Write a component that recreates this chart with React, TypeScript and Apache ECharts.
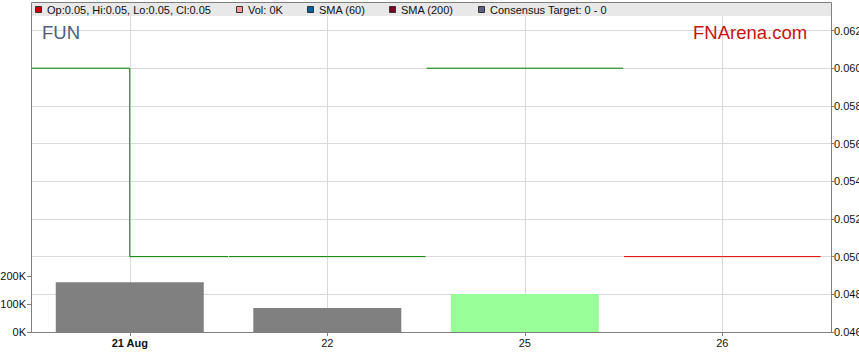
import React, { useEffect, useRef } from 'react';
import * as echarts from 'echarts';

const dates = ['21 Aug', '22', '25', '26'];
const opens = [0.06, 0.05, 0.06, 0.05];
const highs = [0.06, 0.05, 0.06, 0.05];
const lows = [0.05, 0.05, 0.06, 0.05];
const closes = [0.05, 0.05, 0.06, 0.05];
const priceColors = ['#008000', '#008000', '#008000', '#dd0000'];
const volumes = [178000, 86000, 136000, 0];
const volumeColors = ['#808080', '#808080', '#99ff99', '#808080'];
const priceTicks = [0.046, 0.048, 0.05, 0.052, 0.054, 0.056, 0.058, 0.06, 0.062];
const volumeTicks = [0, 100000, 200000];
const legendLabels = ['Op:0.05, Hi:0.05, Lo:0.05, Cl:0.05', 'Vol: 0K', 'SMA (60)', 'SMA (200)', 'Consensus Target: 0 - 0'];
const legendColors = ['#cc0000', '#ff9999', '#0060a0', '#800020', '#606080'];
const legendX = [35, 236, 307, 389, 478];

const FONT = "'Liberation Sans', Arial, sans-serif";

export default function App() {
  const ref = useRef<HTMLDivElement>(null);
  useEffect(() => {
    if (!ref.current) return;
    const chart = echarts.init(ref.current, undefined, { renderer: 'svg' });
    const idx = dates.map((_, i) => i);

    const legendGraphics: any[] = [];
    legendLabels.forEach((t, i) => {
      legendGraphics.push({
        type: 'rect', z: 10,
        shape: { x: legendX[i] + 0.5, y: 6.5, width: 6, height: 6 },
        style: { fill: legendColors[i], stroke: '#333', lineWidth: 1 },
      });
      legendGraphics.push({
        type: 'text', z: 10, x: legendX[i] + 12, y: 10,
        style: { text: t, fontSize: 11, fontFamily: FONT, fill: '#111', verticalAlign: 'middle' },
      });
    });

    chart.setOption({
      animation: false,
      grid: [
        { left: 31, right: 28, top: 16, bottom: 31, outerBoundsMode: 'none', containLabel: false },
        { left: 31, right: 28, top: 276, bottom: 31, outerBoundsMode: 'none', containLabel: false },
      ],
      xAxis: [
        {
          type: 'value', gridIndex: 0, min: -0.5, max: 3.55,
          axisLine: { show: true, onZero: false, lineStyle: { color: '#808080' } },
          axisTick: { show: true, customValues: idx, length: 4, lineStyle: { color: '#808080' } },
          axisLabel: {
            customValues: idx, margin: 5, fontSize: 11, fontFamily: FONT, color: '#111',
            formatter: (v: number) => {
              const i = Math.round(v);
              return i === 0 ? '{b|' + dates[i] + '}' : dates[i];
            },
            rich: { b: { fontWeight: 'bold', fontSize: 11, fontFamily: FONT, color: '#111' } },
          },
          splitLine: { show: true, lineStyle: { color: '#d9d9d9' } },
        },
        {
          type: 'value', gridIndex: 1, min: -0.5, max: 3.55, show: false,
          axisLine: { onZero: false },
        },
      ],
      yAxis: [
        {
          type: 'value', gridIndex: 0, position: 'right', min: 0.046, max: 0.06277,
          axisLine: { show: true, onZero: false, lineStyle: { color: '#808080' } },
          axisTick: { show: true, customValues: priceTicks, length: 3, lineStyle: { color: '#808080' } },
          axisLabel: {
            customValues: priceTicks, margin: 3, fontSize: 11, fontFamily: FONT, color: '#111',
            formatter: (v: number) => v.toFixed(3),
          },
          splitLine: { show: true, lineStyle: { color: '#d9d9d9' } },
        },
        {
          type: 'value', gridIndex: 1, position: 'left', min: 0, max: 200000, interval: 100000,
          axisLine: { show: true, onZero: false, lineStyle: { color: '#808080' } },
          axisTick: { show: true, customValues: volumeTicks, length: 4, lineStyle: { color: '#808080' } },
          axisLabel: {
            customValues: volumeTicks, margin: 5, fontSize: 11, fontFamily: FONT, color: '#111',
            formatter: (v: number) => Math.round(v / 1000) + 'K',
          },
          splitLine: { show: false },
        },
      ],
      series: [
        {
          type: 'bar', xAxisIndex: 1, yAxisIndex: 1, barWidth: 148, z: 3,
          data: volumes.map((v, i) => ({ value: [i, v], itemStyle: { color: volumeColors[i] } })),
        },
        {
          type: 'custom', xAxisIndex: 0, yAxisIndex: 0, z: 4,
          data: dates.map((_, i) => [i, opens[i], highs[i], lows[i], closes[i]]),
          renderItem: (params: any, api: any) => {
            const i = api.value(0);
            const c = priceColors[i];
            const pL = api.coord([i - 0.5, api.value(1)]);
            const pM = api.coord([i, api.value(1)]);
            const pMc = api.coord([i, api.value(4)]);
            const pR = api.coord([i + 0.5, api.value(4)]);
            const pH = api.coord([i, api.value(2)]);
            const pLo = api.coord([i, api.value(3)]);
            const st = { stroke: c, lineWidth: 1 };
            return {
              type: 'group',
              children: [
                { type: 'line', shape: { x1: pL[0] + 0.5, y1: pL[1], x2: pM[0], y2: pM[1] }, style: st },
                { type: 'line', shape: { x1: pMc[0], y1: pMc[1], x2: pR[0] - 0.5, y2: pR[1] }, style: st },
                { type: 'line', shape: { x1: pH[0], y1: pH[1], x2: pLo[0], y2: pLo[1] }, style: st },
              ],
            };
          },
        },
      ],
      graphic: [
        {
          type: 'rect', z: 5,
          shape: { x: 31, y: 2, width: 800, height: 14 },
          style: { fill: '#e8e8e8' },
        },
        {
          type: 'rect', z: 6,
          shape: { x: 31.5, y: 2.5, width: 800, height: 330 },
          style: { fill: 'none', stroke: '#808080', lineWidth: 1 },
        },
        ...legendGraphics,
        {
          type: 'text', z: 10, x: 42, y: 32,
          style: { text: 'FUN', fontSize: 18.5, fontFamily: FONT, fill: '#4d6080', verticalAlign: 'middle' },
        },
        {
          type: 'text', z: 10, x: 693, y: 32,
          style: { text: 'FNArena.com', fontSize: 18.5, fontFamily: FONT, fill: '#cc1111', verticalAlign: 'middle' },
        },
      ],
    });
    return () => chart.dispose();
  }, []);
  return <div ref={ref} style={{ position: 'absolute', left: 0, top: 0, width: 859, height: 363 }} />;
}
